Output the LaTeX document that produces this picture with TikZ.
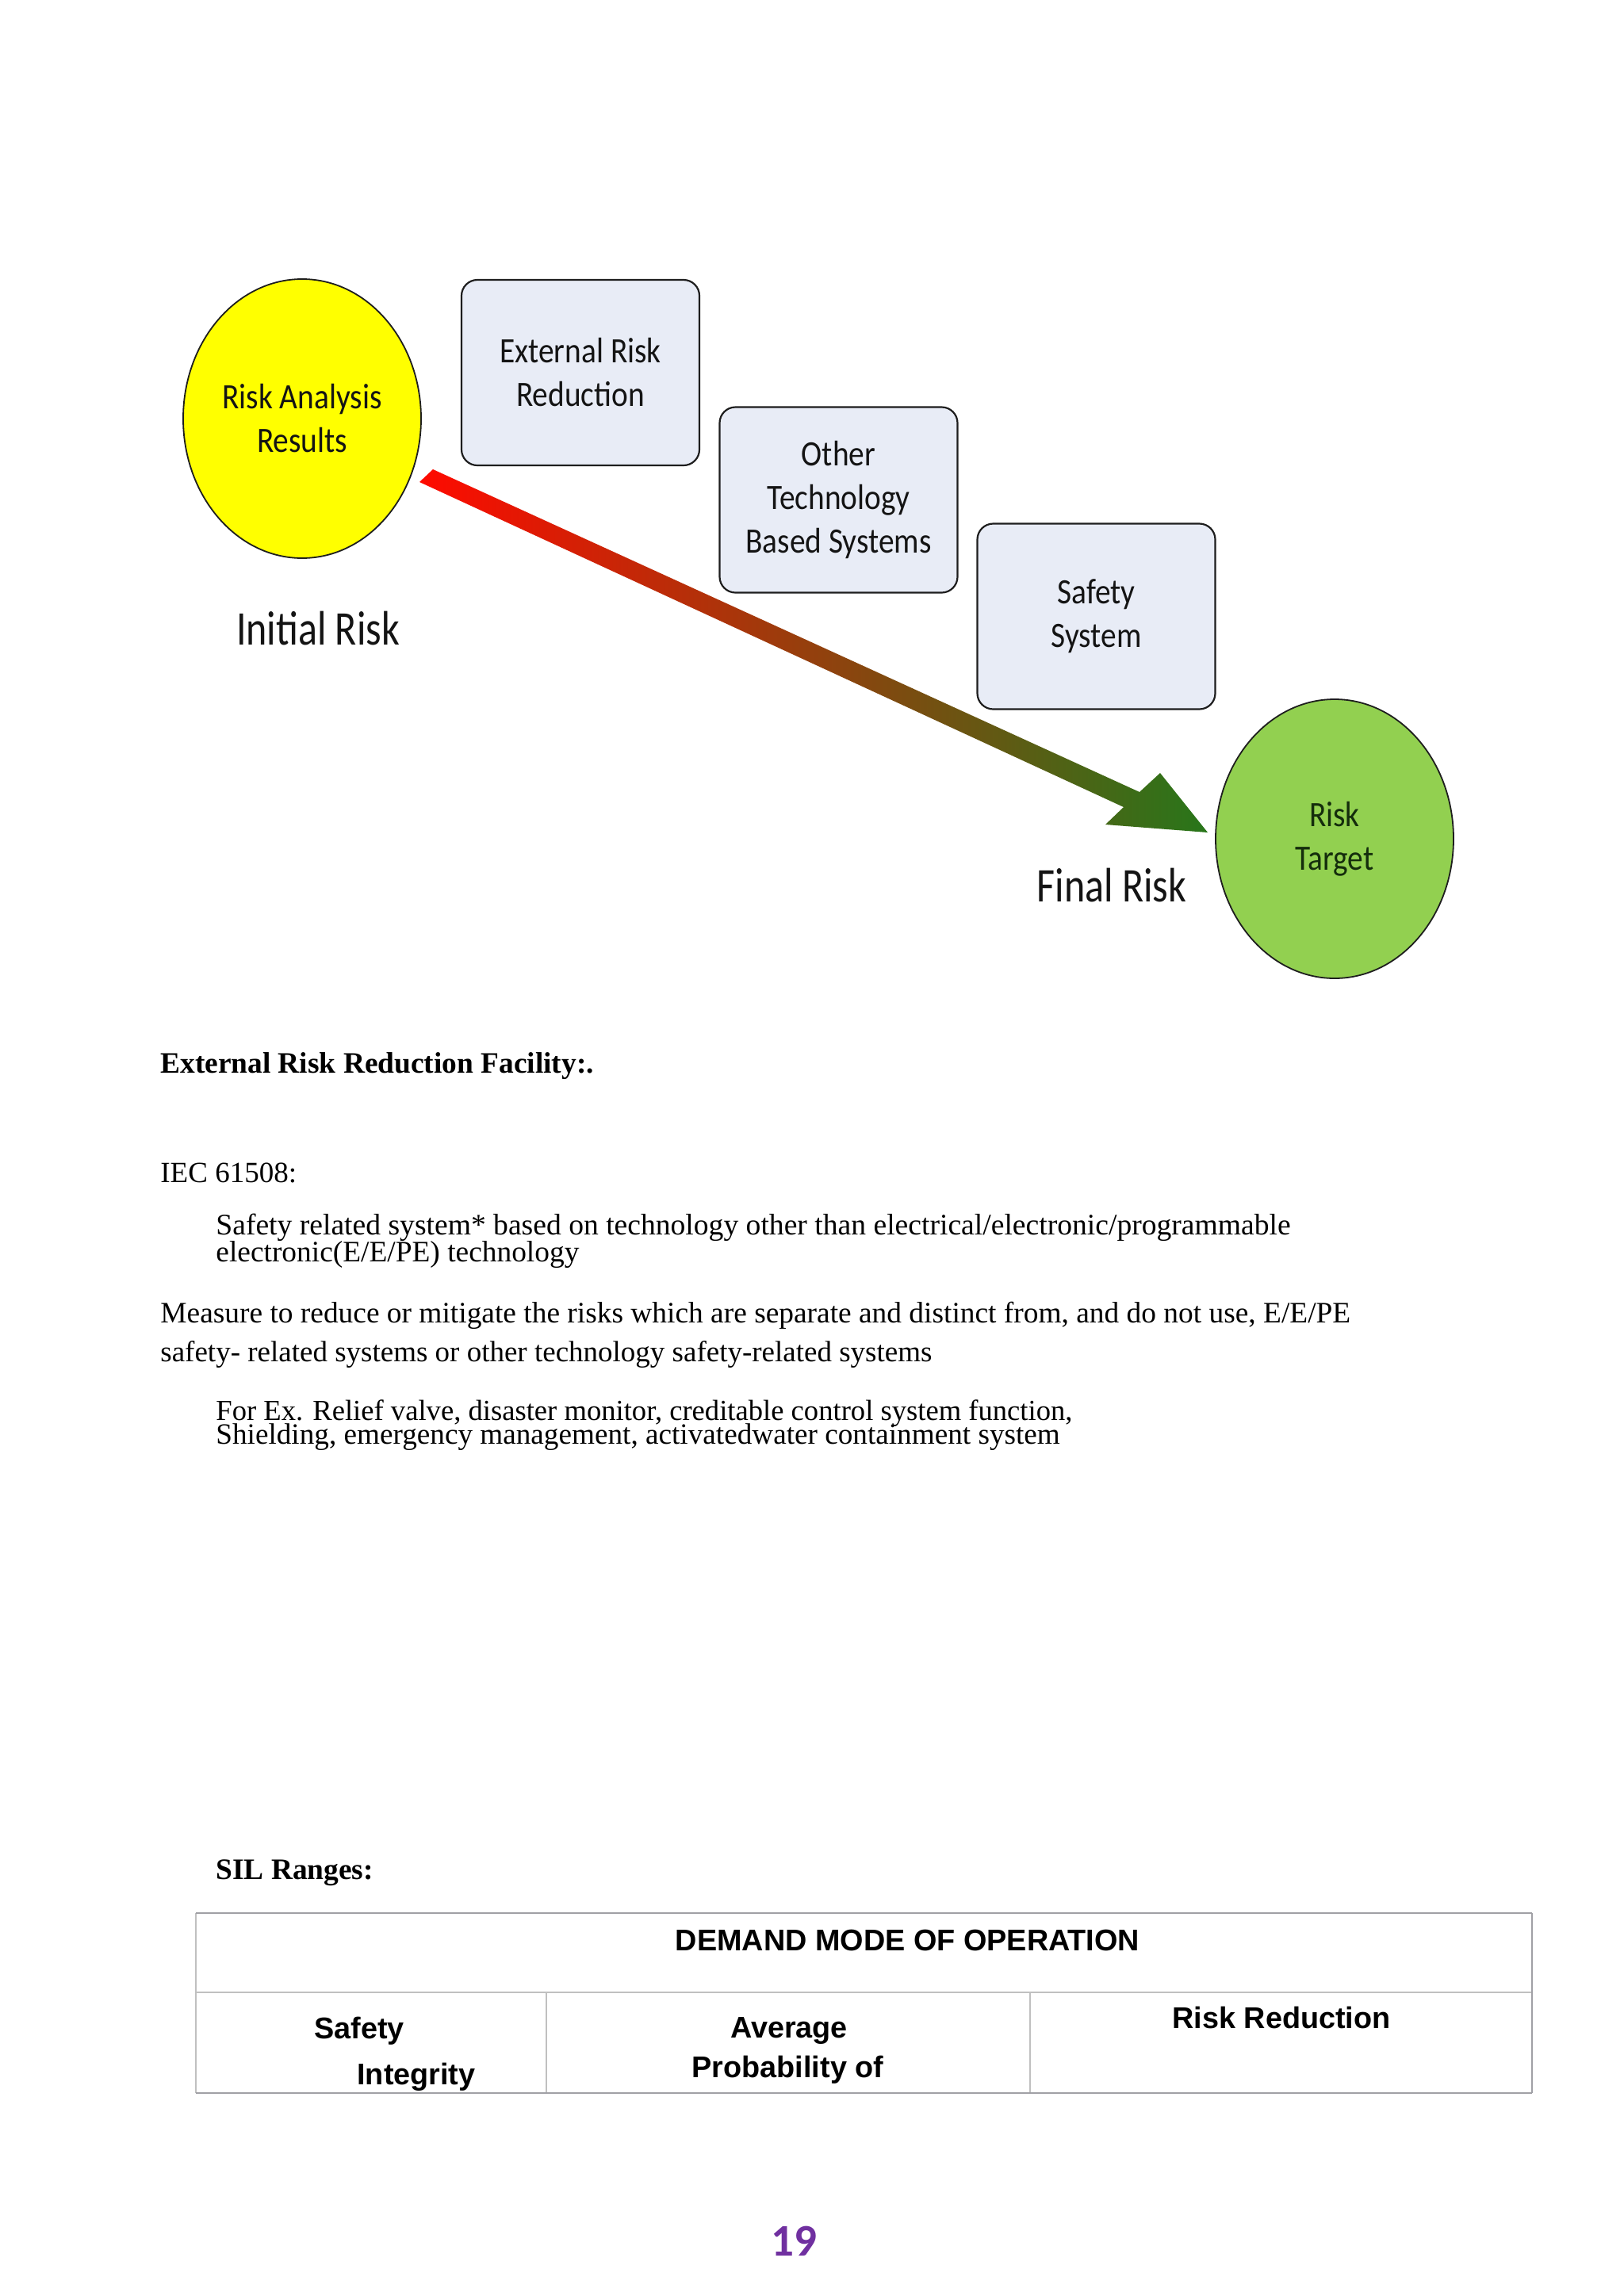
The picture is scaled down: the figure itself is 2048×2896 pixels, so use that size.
\documentclass[tikz,border=0pt]{standalone}
\usepackage{fontspec}
\setmainfont{Liberation Serif}
\newfontfamily\diagfont[FakeStretch=0.82]{Carlito}
\newfontfamily\boxfont[FakeStretch=0.875]{Carlito}
\newfontfamily\calibrifont{Carlito}
\newfontfamily\arialfont{Liberation Sans}
\usetikzlibrary{shapes.geometric}
\definecolor{boxfill}{RGB}{232,236,246}
\definecolor{boxline}{RGB}{30,30,30}
\definecolor{riskyellow}{RGB}{255,255,0}
\definecolor{riskgreen}{RGB}{146,208,80}
\definecolor{arrowred}{RGB}{255,10,0}
\definecolor{arrowmid}{RGB}{222,88,24}
\definecolor{arrowgreen}{RGB}{40,118,26}
\definecolor{darkgreentext}{RGB}{20,45,12}
\definecolor{diagtext}{RGB}{20,20,20}
\definecolor{pagepurple}{RGB}{112,48,160}
\definecolor{tblline}{RGB}{192,192,192}
\definecolor{tbldark}{RGB}{160,160,165}
\begin{document}
\begin{tikzpicture}[x=0.5pt,y=-0.5pt,
  stagebox/.style={draw=boxline, fill=boxfill, line width=1.1pt, rounded corners=10pt,
    minimum width=150pt, minimum height=117pt, inner sep=0pt, align=center,
    font=\boxfont\fontsize{22.5}{27.5}\selectfont, text=diagtext},
  riskoval/.style={ellipse, draw=boxline, line width=0.9pt, minimum width=150pt,
    minimum height=176pt, inner sep=0pt, align=center,
    font=\boxfont\fontsize{22.5}{27.5}\selectfont},
  risklabel/.style={anchor=base, inner sep=0pt, font=\diagfont\fontsize{30.5}{36}\selectfont, text=diagtext},
  bodytext/.style={anchor=base west, inner sep=0pt, font=\fontsize{#1}{22}\selectfont},
  bodytext/.default=18.5,
  headtext/.style={anchor=base west, inner sep=0pt, font=\bfseries\fontsize{18.7}{22}\selectfont},
  celltext/.style={anchor=base, inner sep=0pt, font=\arialfont\bfseries\fontsize{18.9}{22}\selectfont},
  tblinner/.style={draw=tblline, line width=0.6pt},
  tblouter/.style={draw=tbldark, line width=1.1pt}
]
\useasboundingbox[fill=white] (0,0) rectangle (2048,2896);

% ---------- diagram ----------
\node[riskoval, fill=riskyellow, text=diagtext] (initial) at (381,528) {Risk Analysis\\Results};
\node[stagebox] (ext) at (732,470) {External Risk\\Reduction};
\node[stagebox] (other) at (1057.5,630.5) {Other\\Technology\\Based Systems};
\node[stagebox] (sis) at (1382.5,777.5) {Safety\\System};
\node[riskoval, fill=riskgreen, text=darkgreentext] (target) at (1683,1058) {Risk\\Target};

\node[risklabel] (initlbl) at (401,813) {Initial Risk};
\node[risklabel] (finallbl) at (1402,1137) {Final Risk};

% gradient arrow
\coordinate (a1) at (546,592);
\coordinate (a2) at (529,608);
\coordinate (a3) at (1417,1018);
\coordinate (a4) at (1394,1040);
\coordinate (tip) at (1523,1050);
\coordinate (a6) at (1463,975);
\coordinate (a7) at (1437,999);
\shade[left color=arrowred, middle color=arrowmid, right color=arrowgreen]
  (a1) -- (a2) -- (a3) -- (a4) -- (tip) -- (a6) -- (a7) -- cycle;

% ---------- text ----------
\node[headtext] (h1) at (202,1353) {External Risk Reduction Facility:.};
\node[bodytext] (iec) at (202,1491) {IEC 61508:};
\node[bodytext=18.8] (p1a) at (272,1557) {Safety related system* based on technology other than electrical/electronic/programmable};
\node[bodytext=18.7] (p1b) at (272,1591) {electronic(E/E/PE) technology};
\node[bodytext=18.7] (p2a) at (202,1668) {Measure to reduce or mitigate the risks which are separate and distinct from, and do not use, E/E/PE};
\node[bodytext=18.5] (p2b) at (202,1717) {safety- related systems or other technology safety-related systems};
\node[bodytext=18.3] (p3a) at (272,1791) {For Ex. Relief valve, disaster monitor, creditable control system function,};
\node[bodytext=18.6] (p3b) at (272,1821) {Shielding, emergency management, activatedwater containment system};
\node[headtext] (sil) at (272,2370) {SIL Ranges:};

% ---------- table ----------
\coordinate (tl) at (247,2413);
\coordinate (tr) at (1932,2413);
\coordinate (ml) at (247,2513);
\coordinate (mr) at (1932,2513);
\coordinate (bl) at (247,2640);
\coordinate (br) at (1932,2640);
\coordinate (c1t) at (689,2513);
\coordinate (c1b) at (689,2640);
\coordinate (c2t) at (1299,2513);
\coordinate (c2b) at (1299,2640);
\draw[tblinner] (ml) -- (mr);
\draw[tblinner] (c1t) -- (c1b);
\draw[tblinner] (c2t) -- (c2b);
\draw[draw=tblline, line width=0.8pt] (tl) -- (bl);
\draw[tblouter] (tr) -- (br);
\draw[tblouter] (tl) -- (tr);
\draw[tblouter] (bl) -- (br);

\node[celltext] (demand) at (1144.5,2460) {DEMAND MODE OF OPERATION};
\node[celltext] (safety) at (453,2571) {Safety};
\node[celltext] (integrity) at (525,2629) {Integrity};
\node[celltext] (average) at (995,2570) {Average};
\node[celltext] (prob) at (993.5,2620) {Probability of};
\node[celltext] (rr) at (1616,2558) {Risk Reduction};

% page number
\node[anchor=base, inner sep=0pt, text=pagepurple, font=\calibrifont\bfseries\fontsize{28.5}{32}\selectfont] (pg) at (1001,2845) {19};
\end{tikzpicture}
\end{document}
